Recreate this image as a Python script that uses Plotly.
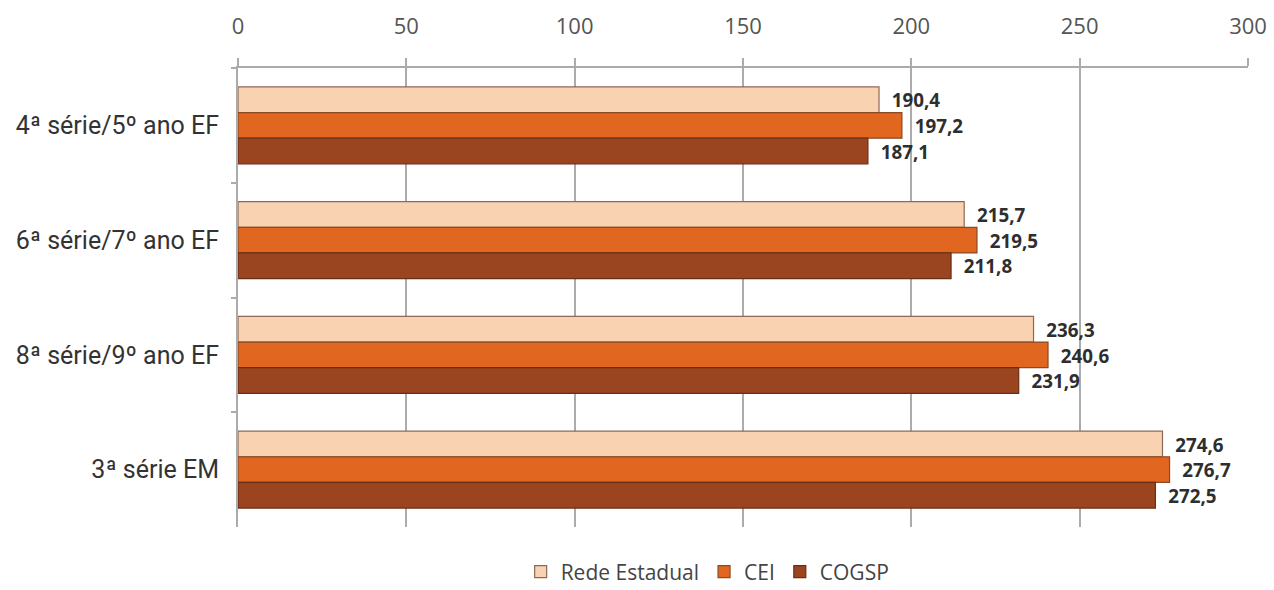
import plotly.graph_objects as go

categorias = ["4ª série/5º ano EF", "6ª série/7º ano EF", "8ª série/9º ano EF", "3ª série EM"]
rede_estadual = [190.4, 215.7, 236.3, 274.6]
cei = [197.2, 219.5, 240.6, 276.7]
cogsp = [187.1, 211.8, 231.9, 272.5]

series = [
    ("Rede Estadual", rede_estadual, "#F9D2B2", "#8A6A58"),
    ("CEI", cei, "#E1661F", "#8A4A25"),
    ("COGSP", cogsp, "#9B4520", "#6A2E14"),
]

def rotulo(v):
    # vírgula decimal, com um pequeno recuo em relação à barra
    return "  " + f"{v:.1f}".replace(".", ",")

fig = go.Figure()
for nome, valores, cor, borda in series:
    fig.add_trace(go.Bar(
        name=nome,
        y=categorias,
        x=valores,
        orientation="h",
        marker=dict(color=cor, line=dict(color=borda, width=1.2)),
        text=[rotulo(v) for v in valores],
        textposition="outside",
        textfont=dict(family="Open Sans", size=22, color="#2E2E2E", weight="bold"),
        cliponaxis=False,
    ))

fig.update_layout(
    width=1274,
    height=590,
    margin=dict(l=238, r=26, t=68, b=63, autoexpand=False),
    paper_bgcolor="white",
    plot_bgcolor="white",
    barmode="group",
    bargap=0.33,
    bargroupgap=0,
    showlegend=True,
    legend=dict(
        orientation="h",
        x=0.465,
        xanchor="center",
        y=-0.098,
        yanchor="middle",
        traceorder="normal",
        font=dict(family="Open Sans", size=21, color="#444444"),
        itemwidth=30,
        tracegroupgap=0,
    ),
    xaxis=dict(
        side="top",
        range=[0, 300],
        tickvals=[0, 50, 100, 150, 200, 250, 300],
        showgrid=True,
        gridcolor="#ABABAB",
        gridwidth=1.5,
        showline=True,
        linecolor="#ABABAB",
        linewidth=2,
        ticks="outside",
        ticklen=8,
        tickwidth=1.5,
        tickcolor="#ABABAB",
        ticklabelstandoff=15,
        tickfont=dict(family="Open Sans", size=22, color="#555555"),
        zeroline=False,
        fixedrange=True,
    ),
    yaxis=dict(
        autorange="reversed",
        showline=True,
        linecolor="#ABABAB",
        linewidth=2,
        ticks="outside",
        tickson="boundaries",
        ticklen=5,
        tickwidth=1.5,
        tickcolor="#ABABAB",
        ticklabelstandoff=12,
        tickfont=dict(family="Roboto", size=25, color="#333333"),
    ),
)

fig.write_html("out.html")
